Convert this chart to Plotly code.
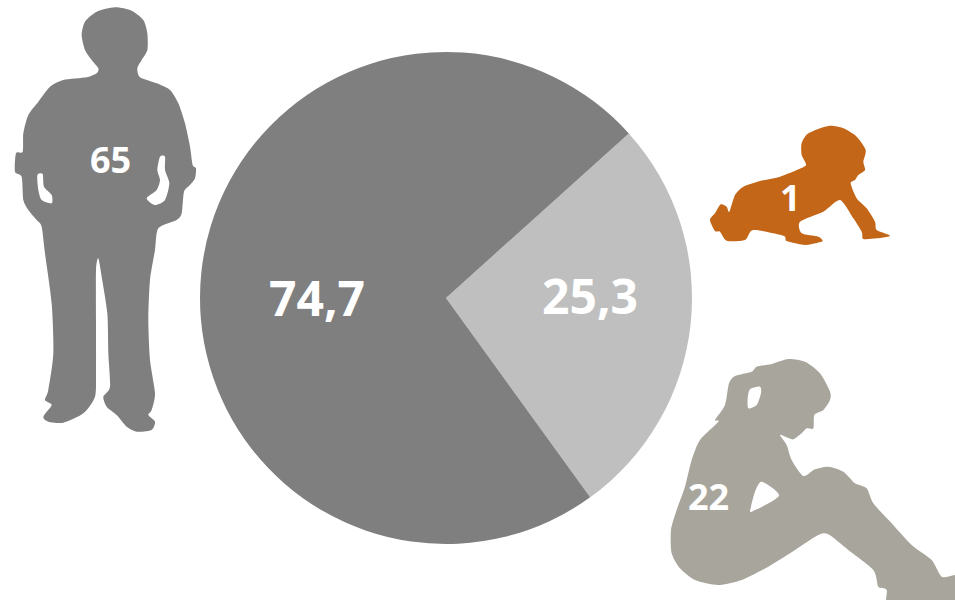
import plotly.graph_objects as go

W, H = 955, 600

slice_names = ["light", "dark"]
slice_shares = [26.7, 73.3]
slice_colors = ["#bfbfbf", "#7f7f7f"]
slice_labels = ["25,3", "74,7"]
group_labels = ["65", "1", "22"]

MAN_COLOR = "#7f7f7f"
BABY_COLOR = "#c46617"
WOMAN_COLOR = "#a7a59c"

# Decorative silhouettes: outlines in page pixels (offset + zoomed tracing / 3)
man_top = [(345,22),(395,32),(430,60),(442,100),(442,150),(425,180),(412,205),(420,232),(470,250),(510,270),(535,310),(555,370),(570,440),(578,495),(588,505),(585,535),(570,555),(552,575),(545,640)]
man_legs = [(470,0),(415,25),(405,90),(390,180),(385,300),(390,420),(405,520),(395,570),(385,585),(405,605),(395,630),(350,635),(320,620),(290,585),(260,560),(250,530),(270,500),(265,400),(262,280),(245,170),(235,115),(228,150),(228,300),(228,450),(225,530),(190,580),(130,608),(85,605),(70,590),(95,555),(75,540),(85,510),(100,400),(95,250),(75,100),(65,20),(50,0)]
man_back = [(85,630),(70,600),(65,530),(45,515),(48,460),(68,455),(70,400),(85,345),(115,305),(150,260),(190,240),(260,232),(290,220),(295,205),(275,180),(255,150),(245,105),(255,65),(290,35)]
man_hole_a = [(112,525),(128,522),(132,560),(155,585),(155,610),(125,600),(115,570)]
man_hole_b = [(480,470),(495,470),(495,510),(508,550),(495,600),(465,615),(440,595),(470,570),(480,540),(472,510)]
baby = [(385,33),(430,40),(470,65),(497,105),(490,140),(495,165),(475,180),(465,195),(452,205),(470,250),(500,280),(525,320),(530,345),(570,362),(530,370),(490,372),(485,350),(460,310),(420,255),(370,290),(300,320),(305,355),(355,365),(368,378),(345,385),(315,390),(260,378),(250,362),(160,345),(135,375),(80,377),(60,350),(45,348),(30,315),(45,295),(62,268),(80,275),(88,290),(105,240),(130,215),(180,198),(240,185),(290,165),(318,150),(305,120),(305,85),(325,55)]
woman = [(400,27),(450,35),(495,70),(525,125),(525,150),(505,180),(478,195),(475,235),(455,235),(440,250),(415,268),(395,262),(375,255),(395,285),(410,330),(445,378),(480,358),(520,350),(565,365),(600,400),(635,415),(655,460),(710,520),(770,585),(830,630),(860,680),(900,675),(960,675),(960,790),(710,790),(695,720),(670,710),(655,660),(580,600),(520,553),(490,555),(420,600),(340,650),(260,690),(190,705),(120,690),(75,655),(50,610),(48,540),(65,480),(90,410),(110,330),(135,270),(190,215),(180,210),(210,165),(222,100),(240,78),(290,65),(305,50),(350,42)]
woman_hole_a = [(285,118),(315,110),(318,130),(305,165),(280,175),(278,145)]
woman_hole_b = [(320,395),(372,437),(290,485),(288,470),(300,425)]


def page(pts, ox, oy):
    return [(ox + x / 3, oy + y / 3) for x, y in pts]


def smooth(pts, k=0.12):
    # closed Catmull-Rom style curve through every traced point
    def p(x, y):
        return f"{x / W:.5f},{1 - y / H:.5f}"
    n = len(pts)
    d = "M" + p(*pts[0])
    for i in range(n):
        a, b, c, e = pts[i - 1], pts[i], pts[(i + 1) % n], pts[(i + 2) % n]
        c1 = (b[0] + (c[0] - a[0]) * k, b[1] + (c[1] - a[1]) * k)
        c2 = (c[0] - (e[0] - b[0]) * k, c[1] - (e[1] - b[1]) * k)
        d += " C" + p(*c1) + " " + p(*c2) + " " + p(*c)
    return d + " Z"


def silhouette(parts, color):
    return dict(type="path", xref="paper", yref="paper", layer="above",
                path=" ".join(smooth(q) for q in parts),
                fillcolor=color, line=dict(width=0), fillrule="evenodd")


man_outline = page(man_top, 0, 0) + page(man_legs, 20, 220) + page(man_back, 0, 0)

shapes = [
    silhouette([man_outline, page(man_hole_a, 0, 0), page(man_hole_b, 0, 0)], MAN_COLOR),
    silhouette([page(baby, 700, 115)], BABY_COLOR),
    silhouette([page(woman, 655, 350), page(woman_hole_a, 655, 350), page(woman_hole_b, 655, 350)], WOMAN_COLOR),
]

fig = go.Figure(go.Pie(
    labels=slice_names, values=slice_shares, sort=False, direction="clockwise",
    rotation=48, marker=dict(colors=slice_colors, line=dict(width=0)),
    textinfo="none", hoverinfo="skip", showlegend=False,
    domain=dict(x=[200 / W, 692 / W], y=[1 - 544 / H, 1 - 52 / H]),
))


def label(text, x, y, size):
    return dict(text=f"<b>{text}</b>", x=x / W, y=1 - y / H, xref="paper", yref="paper",
                showarrow=False, xanchor="center", yanchor="middle",
                font=dict(family="Open Sans", size=size, color="white"))


fig.update_layout(
    width=W, height=H, margin=dict(l=0, r=0, t=0, b=0),
    paper_bgcolor="white", plot_bgcolor="white", showlegend=False, shapes=shapes,
    annotations=[
        label(slice_labels[0], 590, 295, 48),
        label(slice_labels[1], 317, 298, 48),
        label(group_labels[0], 110, 160, 36),
        label(group_labels[1], 790, 197, 36),
        label(group_labels[2], 708, 496, 36),
    ],
)
fig.write_html("out.html", post_script="document.body.style.margin='0';", config=dict(displayModeBar=False))
